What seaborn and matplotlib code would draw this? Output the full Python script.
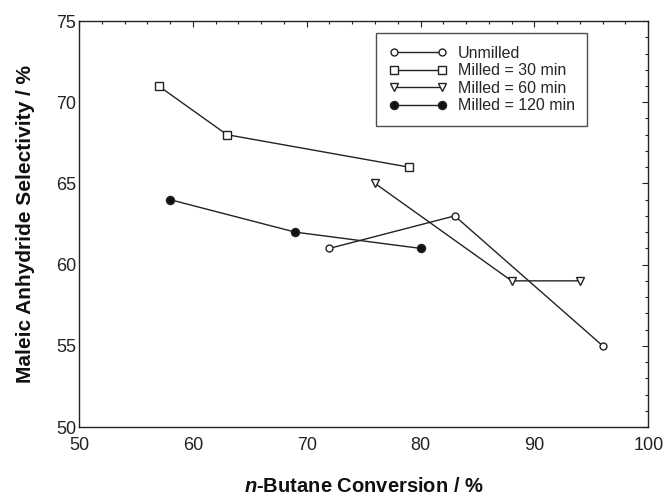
import matplotlib
matplotlib.use("Agg")
import matplotlib.pyplot as plt
import seaborn as sns
import pandas as pd
from matplotlib.ticker import MultipleLocator

sns.set_theme(style="white")
plt.rcParams['font.family'] = ['Liberation Sans', 'DejaVu Sans']
plt.rcParams['mathtext.fontset'] = 'custom'
plt.rcParams['mathtext.it'] = 'Liberation Sans:italic:bold'
plt.rcParams['mathtext.rm'] = 'Liberation Sans:bold'

series_names = ["Unmilled", "Milled = 30 min", "Milled = 60 min", "Milled = 120 min"]
unmilled_x = [72, 83, 96]
unmilled_y = [61, 63, 55]
milled30_x = [57, 63, 79]
milled30_y = [71, 68, 66]
milled60_x = [76, 88, 94]
milled60_y = [65, 59, 59]
milled120_x = [58, 69, 80]
milled120_y = [64, 62, 61]

xs = [unmilled_x, milled30_x, milled60_x, milled120_x]
ys = [unmilled_y, milled30_y, milled60_y, milled120_y]
markers = ["o", "s", "v", "o"]
faces = ["white", "white", "white", "#111111"]
msizes = [5, 5.5, 6, 5.8]

rows = []
for name, x, y in zip(series_names, xs, ys):
    for xi, yi in zip(x, y):
        rows.append({"series": name, "conv": xi, "sel": yi})
df = pd.DataFrame(rows)

fig = plt.figure(figsize=(6.67, 4.96), dpi=100)
ax = fig.add_axes([0.1184, 0.1391, 0.8535, 0.8185])

for name, m, fc, ms in zip(series_names, markers, faces, msizes):
    sub = df[df["series"] == name]
    sns.lineplot(data=sub, x="conv", y="sel", ax=ax, color="#222222", lw=1.0,
                 marker=m, markersize=ms, markerfacecolor=fc,
                 markeredgecolor="#222222", markeredgewidth=1.0,
                 sort=False, label=name, legend=False)

ax.set_xlim(50, 100)
ax.set_ylim(50, 75)
ax.xaxis.set_major_locator(MultipleLocator(10))
ax.xaxis.set_minor_locator(MultipleLocator(2))
ax.yaxis.set_major_locator(MultipleLocator(5))
ax.yaxis.set_minor_locator(MultipleLocator(1))
ax.tick_params(which="both", direction="in", top=True, right=True,
               labelsize=13, colors="#222222", width=0.8)
ax.tick_params(which="major", length=4)
ax.tick_params(which="minor", length=2)
ax.tick_params(axis="x", which="major", pad=7.5)
ax.tick_params(axis="y", which="major", pad=2)
for s in ax.spines.values():
    s.set_color("#222222")
    s.set_linewidth(1.0)

ax.set_xlabel("$n$-Butane Conversion / %", fontsize=14.5, fontweight="bold",
              labelpad=16, color="#111111")
ax.set_ylabel("Maleic Anhydride Selectivity / %", fontsize=15, fontweight="bold",
              labelpad=15, color="#111111")

leg = ax.legend(loc="upper left", bbox_to_anchor=(0.522, 0.970), numpoints=2,
                fontsize=11.5, frameon=True, fancybox=False, edgecolor="#222222",
                handlelength=3.6, handletextpad=0.7, labelspacing=0.15,
                borderpad=0.8, borderaxespad=0)
leg.get_frame().set_linewidth(1.0)

fig.savefig("out.png", dpi=100, facecolor="white")
